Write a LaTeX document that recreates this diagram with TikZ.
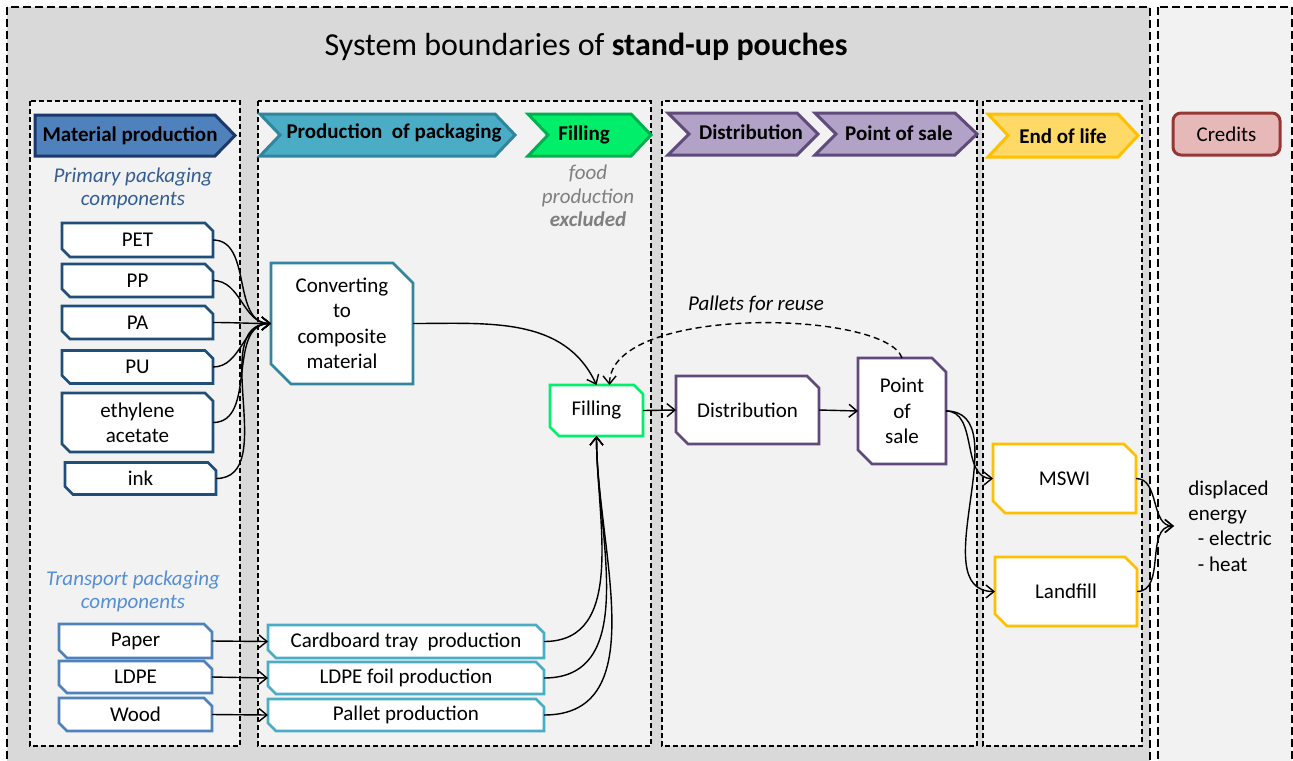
\documentclass[tikz,border=0pt]{standalone}
\usepackage{fontspec}
\setmainfont{Carlito}
\usetikzlibrary{arrows.meta,calc}
\pgfdeclarelayer{back}
\pgfdeclarelayer{mid}
\pgfsetlayers{back,mid,main}

\definecolor{outerfill}{HTML}{D9D9D9}
\definecolor{innerfill}{HTML}{F2F2F2}
\definecolor{matfill}{HTML}{4F81BD}
\definecolor{matline}{HTML}{1B3A6B}
\definecolor{primline}{HTML}{1F4E79}
\definecolor{primtext}{HTML}{335D93}
\definecolor{transline}{HTML}{4F81BD}
\definecolor{transtext}{HTML}{558ED5}
\definecolor{packfill}{HTML}{4BACC6}
\definecolor{packline}{HTML}{31859C}
\definecolor{fillgreen}{HTML}{00EE6A}
\definecolor{fillline}{HTML}{00B050}
\definecolor{fillbox}{HTML}{00F06A}
\definecolor{distfill}{HTML}{B3A2C7}
\definecolor{distline}{HTML}{604A7B}
\definecolor{eolfill}{HTML}{FFD966}
\definecolor{eolline}{HTML}{FFC000}
\definecolor{credfill}{HTML}{E6B9B8}
\definecolor{credline}{HTML}{953735}
\definecolor{greytext}{HTML}{7F7F7F}

% white box with the upper right and lower left corners cut off,
% drawn behind the node of the given name
\newcommand\notchbox[3]{%
  \begin{pgfonlayer}{mid}
    \filldraw[fill=white, draw=#3, line width=1.4pt]
      (#1.north west) -- ([xshift=-#2]#1.north east) -- ([yshift=-#2]#1.north east)
      -- (#1.south east) -- ([xshift=#2]#1.south west) -- ([yshift=#2]#1.south west) -- cycle;
  \end{pgfonlayer}}

\tikzset{
  txt/.style={font=\fontsize{10.5}{12.7}\selectfont},
  box/.style={txt, inner sep=0pt, outer sep=0pt, align=center},
  hdr/.style={font=\fontsize{10.5}{12.7}\selectfont\bfseries, inner sep=0pt},
  chev/.style={line width=1.5pt, line join=miter},
  frame/.style={fill=innerfill, draw=black, line width=0.75pt, dash pattern=on 2.5pt off 1.5pt},
  conn/.style={->, line width=0.7pt},
}

\begin{document}
\begin{tikzpicture}[x=0.5pt, y=-0.5pt, >={Straight Barb[length=4pt,width=6.5pt]}]
\useasboundingbox (0,0) rectangle (1293,760);

% boundaries
\begin{pgfonlayer}{back}
  \fill[white] (0,0) rectangle (1293,760);
  \filldraw[fill=outerfill, draw=black, line width=1pt, dash pattern=on 4pt off 2pt] (7,7) rectangle (1150,790);
  \filldraw[fill=innerfill, draw=black, line width=1pt, dash pattern=on 4pt off 2pt] (1158,7) rectangle (1292,790);
  \filldraw[frame] (30,101) rectangle (240,746);
  \filldraw[frame] (258,101) rectangle (651,746);
  \filldraw[frame] (662,101) rectangle (977,746);
  \filldraw[frame] (983,101) rectangle (1142,746);
\end{pgfonlayer}

\node[font=\fontsize{16}{19}\selectfont, inner sep=0pt] (title) at (586,47) {System boundaries of \textbf{stand-up pouches}};

% stage headers
\filldraw[chev, fill=matfill, draw=matline] (35,115) -- (215,115) -- (235,135.5) -- (215,156) -- (35,156) -- cycle;
\node[hdr] (hmat) at (130,135.5) {Material production};
\filldraw[chev, fill=packfill, draw=packline] (260,114) -- (495,114) -- (515,135) -- (495,156) -- (260,156) -- (280,135) -- cycle;
\node[hdr] (hpack) at (394,133) {Production\ \ of packaging};
\filldraw[chev, fill=fillgreen, draw=fillline] (528,114) -- (631,114) -- (651,135) -- (631,156) -- (528,156) -- (548,135) -- cycle;
\node[hdr] (hfill) at (584,135) {Filling};
\filldraw[chev, fill=distfill, draw=distline] (668,113) -- (797,113) -- (818,134) -- (797,155) -- (668,155) -- (689,134) -- cycle;
\node[hdr] (hdist) at (751,132) {Distribution};
\filldraw[chev, fill=distfill, draw=distline] (815,113) -- (955,113) -- (977,134) -- (955,155) -- (815,155) -- (836,134) -- cycle;
\node[hdr] (hpos) at (899,133) {Point of sale};
\filldraw[chev, fill=eolfill, draw=eolline] (988,114) -- (1118,114) -- (1138,135.5) -- (1118,157) -- (988,157) -- (1008,135.5) -- cycle;
\node[hdr] (heol) at (1063,136) {End of life};
\filldraw[line width=1.5pt, fill=credfill, draw=credline, rounded corners=4pt] (1173,113) rectangle (1280,155);
\node[txt, inner sep=0pt] (hcred) at (1226.5,134) {Credits};

% side labels
\node[txt, align=center, text=primtext, font=\fontsize{10.5}{11.6}\selectfont\itshape] (lprim) at (133,188) {Primary packaging\\components};
\node[txt, align=center, text=transtext, font=\fontsize{10.5}{11.6}\selectfont\itshape] (ltrans) at (133,591) {Transport packaging\\components};
\node[align=center, text=greytext, font=\fontsize{10.5}{11.7}\selectfont\itshape] (lfood) at (588,196) {food\\production\\\textbf{excluded}};
\node[font=\fontsize{10.5}{12.7}\selectfont\itshape] (lreuse) at (756,304) {Pallets for reuse};

% primary packaging components
\node[box, minimum width=75.5pt, minimum height=17pt] (pet) at (137.5,240) {PET};
\node[box, minimum width=75.5pt, minimum height=16.5pt] (pp) at (137.5,280.5) {PP};
\node[box, minimum width=75.5pt, minimum height=16.5pt] (pa) at (137.5,322.5) {PA};
\node[box, minimum width=75.5pt, minimum height=16.5pt] (pu) at (137.5,367) {PU};
\node[box, minimum width=75.5pt, minimum height=29.5pt] (eth) at (137.5,422.5) {ethylene\\acetate};
\node[box, minimum width=75.5pt, minimum height=16pt] (ink) at (140.5,478.5) {ink};
\foreach \n in {pet,pp,pa,pu,eth,ink} {\notchbox{\n}{4pt}{primline}}

% transport packaging components
\node[box, minimum width=76.5pt, minimum height=17pt] (paper) at (135.5,641) {Paper};
\node[box, minimum width=76.5pt, minimum height=16pt] (ldpe) at (135.5,677) {LDPE};
\node[box, minimum width=76.5pt, minimum height=16.5pt] (wood) at (135.5,714.5) {Wood};
\foreach \n in {paper,ldpe,wood} {\notchbox{\n}{4pt}{transline}}

% production of packaging
\node[box, minimum width=71pt, minimum height=60.5pt] (conv) at (342,323.5) {Converting\\to\\composite\\material};
\notchbox{conv}{10pt}{packline}
\node[box, minimum width=138pt, minimum height=16.5pt] (card) at (406,641.5) {Cardboard tray\ \ production};
\node[box, minimum width=138pt, minimum height=16pt] (foil) at (406,678) {LDPE foil production};
\node[box, minimum width=138pt, minimum height=16pt] (pallet) at (406,715) {Pallet production};
\foreach \n in {card,foil,pallet} {\notchbox{\n}{4pt}{packfill}}

% filling, distribution, point of sale
\node[box, minimum width=46.5pt, minimum height=25.5pt] (fill) at (596.5,410.5) {Filling};
\notchbox{fill}{4.5pt}{fillbox}
\node[box, minimum width=71.5pt, minimum height=34pt] (dist) at (747.5,410) {Distribution};
\notchbox{dist}{6pt}{distline}
\node[box, minimum width=44pt, minimum height=53pt] (pos) at (902,411) {Point\\of\\sale};
\notchbox{pos}{7pt}{distline}

% end of life
\node[box, minimum width=71.5pt, minimum height=34.5pt] (mswi) at (1064.5,478.5) {MSWI};
\notchbox{mswi}{6pt}{eolline}
\node[box, minimum width=71pt, minimum height=34.5pt] (land) at (1066,591.5) {Landfill};
\notchbox{land}{6pt}{eolline}

% credits
\node[txt, align=left, anchor=west, inner xsep=7pt, inner ysep=0pt] (disp) at (1174,526) {displaced\\energy\\\ \ - electric\\\ \ - heat};

% flows
\foreach \n in {pet,pp,pa,pu,eth,ink} {\draw[conn] (\n.east) to[out=0,in=180] (conv.west);}
\draw[conn] (conv.east) to[out=0,in=115] (fill.north);
\draw[conn] (paper.east) -- (card.west);
\draw[conn] (ldpe.east) -- (foil.west);
\draw[conn] (wood.east) -- (pallet.west);
\foreach \n in {card,foil,pallet} {\draw[conn] (\n.east) to[out=0,in=-90] (fill.south);}
\draw[conn, dash pattern=on 3pt off 2pt] (pos.north) .. controls (886,310) and (610,304) .. ([xshift=6.5pt]fill.north);
\draw[conn] (fill.east) -- (dist.west);
\draw[conn] (dist.east) -- (pos.west);
\draw[conn] (pos.east) to[out=0,in=180] (mswi.west);
\draw[conn] (pos.east) to[out=0,in=180] (land.west);
\draw[conn] (mswi.east) to[out=0,in=180] (disp.west);
\draw[conn] (land.east) to[out=0,in=180] (disp.west);
\end{tikzpicture}
\end{document}
